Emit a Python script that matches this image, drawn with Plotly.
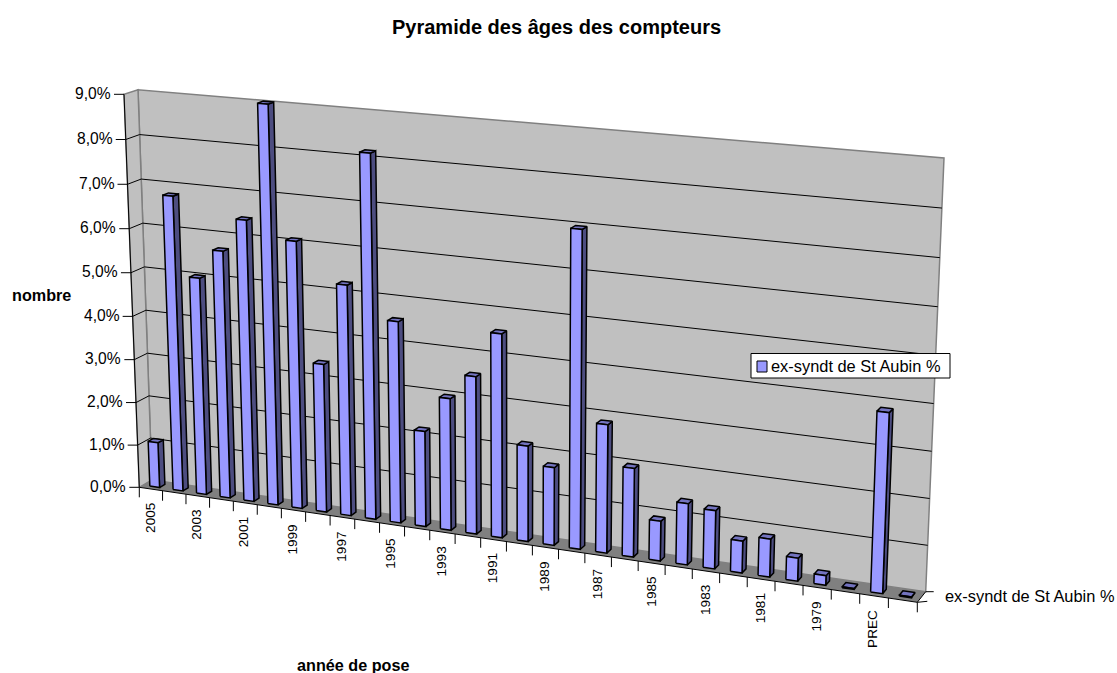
import numpy as np
import plotly.graph_objects as go

TITLE = "Pyramide des âges des compteurs"
SERIES = "ex-syndt de St Aubin %"
categories = ["2005","2004","2003","2002","2001","2000","1999","1998","1997","1996",
              "1995","1994","1993","1992","1991","1990","1989","1988","1987","1986",
              "1985","1984","1983","1982","1981","1980","1979","1978","PREC",""]
shown_labels = ["2005","2003","2001","1999","1997","1995","1993","1991","1989","1987",
                "1985","1983","1981","1979","PREC"]
values = [1.06,6.79,5.00,5.67,6.42,9.02,6.07,3.38,5.22,8.16,
          4.54,2.16,2.97,3.53,4.54,2.14,1.74,6.97,2.84,1.96,
          0.88,1.35,1.28,0.70,0.83,0.50,0.21,0.02,3.85,0.02]
value_ticks = [0,1,2,3,4,5,6,7,8,9]
vmax = 9
n = len(categories)

# Oblique view of the chart box, corners in page pixels
back_q = [(152,480),(925.7,591.7),(944,158),(138,89.7)]
front_q = [(139.3,487.3),(917.3,602.3),(934.5,165.5),(124,94.3)]

def homography(q):
    src = [(0,0),(1,0),(1,1),(0,1)]
    A, b = [], []
    for (u,v),(x,y) in zip(src,q):
        A.append([u,v,1,0,0,0,-u*x,-v*x]); b.append(x)
        A.append([0,0,0,u,v,1,-u*y,-v*y]); b.append(y)
    h = np.linalg.solve(np.array(A,float),np.array(b,float))
    return np.append(h,1).reshape(3,3)
HB, HF = homography(back_q), homography(front_q)

def P(cat, val, d):
    """cat: category position 0..n, val: value, d: depth 0 front..1 back"""
    p = np.array([cat/n, val/vmax, 1.0])
    a = HB@p; a = a[:2]/a[2]
    c = HF@p; c = c[:2]/c[2]
    r = c+(a-c)*d
    return float(r[0]), float(r[1])

def poly(points):
    pts = [P(*p) for p in points]
    pts.append(pts[0])
    return [p[0] for p in pts]+[None], [p[1] for p in pts]+[None]

def seg_trace(segs, color, width):
    xs, ys = [], []
    for a,b in segs:
        xs += [a[0],b[0],None]; ys += [a[1],b[1],None]
    return go.Scatter(x=xs,y=ys,mode="lines",line=dict(color=color,width=width),hoverinfo="skip",showlegend=False)

def fill_trace(polys, fill, line="rgba(0,0,0,0)", width=0):
    xs, ys = [], []
    for q in polys:
        a,b = poly(q); xs += a; ys += b
    return go.Scatter(x=xs,y=ys,mode="lines",fill="toself",fillcolor=fill,
                      line=dict(color=line,width=width),hoverinfo="skip",showlegend=False)

fig = go.Figure()
# walls and floor
fig.add_trace(fill_trace([[(0,0,1),(n,0,1),(n,vmax,1),(0,vmax,1)]],"#C0C0C0","#808080",1.5))
fig.add_trace(fill_trace([[(0,0,0),(0,0,1),(0,vmax,1),(0,vmax,0)]],"#C0C0C0","#808080",1.5))
fig.add_trace(fill_trace([[(0,0,0),(n,0,0),(n,0,1),(0,0,1)]],"#808080"))
# gridlines
grid = []
for v in value_ticks[1:-1]:
    grid.append((P(0,v,0),P(0,v,1))); grid.append((P(0,v,1),P(n,v,1)))
fig.add_trace(seg_trace(grid,"#000000",1))
# axes and ticks
axes = [(P(0,0,0),P(0,vmax,0)),(P(0,0,0),P(n,0,0)),(P(n,0,0),P(n,0,1))]
for v in value_ticks:
    x,y = P(0,v,0); axes.append(((x,y),(x-10,y)))
for i in range(n+1):
    x,y = P(i,0,0); axes.append(((x,y),(x,y+10)))
x,y = P(n,0,0); axes.append(((x,y),(x+10,y-1)))
x,y = P(n,0,1); axes.append(((x,y),(x+8,y)))
fig.add_trace(seg_trace(axes,"#000000",1))
# bars
hw, d0, d1 = 0.21, 0.3, 0.72
fronts, sides, tops = [], [], []
for i,v in enumerate(values):
    c = i+0.5; l, r = c-hw, c+hw
    fronts.append([(l,0,d0),(r,0,d0),(r,v,d0),(l,v,d0)])
    sides.append([(r,0,d0),(r,0,d1),(r,v,d1),(r,v,d0)])
    tops.append([(l,v,d0),(r,v,d0),(r,v,d1),(l,v,d1)])
fig.add_trace(fill_trace(sides,"#4D4D80","#000000",1.5))
fig.add_trace(fill_trace(tops,"#7373BF","#000000",1.5))
fig.add_trace(fill_trace(fronts,"#9999FF","#000000",1.5))

F = "Liberation Sans, Arial, sans-serif"
ann = []
def text(x,y,s,size=13.3,bold=False,**kw):
    ann.append(dict(x=x,y=y,xref="x",yref="y",text=f"<b>{s}</b>" if bold else s,showarrow=False,
                    font=dict(family=F,size=size,color="#000"),borderpad=0,**kw))
for v in value_ticks:
    x,y = P(0,v,0)
    text(x-12,y-1,f"{v},0%",size=15.6,xanchor="right",yanchor="middle")
for lab in shown_labels:
    i = categories.index(lab)
    x,y = P(i+0.5,0,0)
    text(x-1,y+13,lab,size=13.6,textangle=-90,xanchor="center",yanchor="top")
text(556.5,27,TITLE,size=20,bold=True,xanchor="center",yanchor="middle")
text(41,295,"nombre",size=16.2,bold=True,xanchor="center",yanchor="middle")
text(352.5,665,"année de pose",size=16.2,bold=True,xanchor="center",yanchor="middle")
text(944,596,SERIES,size=16.4,xanchor="left",yanchor="middle")
text(770,366,SERIES,size=16.4,xanchor="left",yanchor="middle")

shapes = [dict(type="rect",xref="x",yref="y",x0=751,x1=950,y0=353.5,y1=378,
               fillcolor="#fff",line=dict(color="#000",width=1)),
          dict(type="rect",xref="x",yref="y",x0=757,x1=767,y0=361,y1=372,
               fillcolor="#9999FF",line=dict(color="#000",width=1))]

fig.update_layout(width=1117,height=673,margin=dict(l=0,r=0,t=0,b=0),paper_bgcolor="#fff",plot_bgcolor="#fff",
    showlegend=False,annotations=ann,shapes=shapes,
    xaxis=dict(range=[0,1117],visible=False,fixedrange=True),
    yaxis=dict(range=[673,0],visible=False,fixedrange=True))
fig.write_html("out.html",post_script="document.body.style.margin='0';document.documentElement.style.overflow='hidden';",config={"displayModeBar":False})
